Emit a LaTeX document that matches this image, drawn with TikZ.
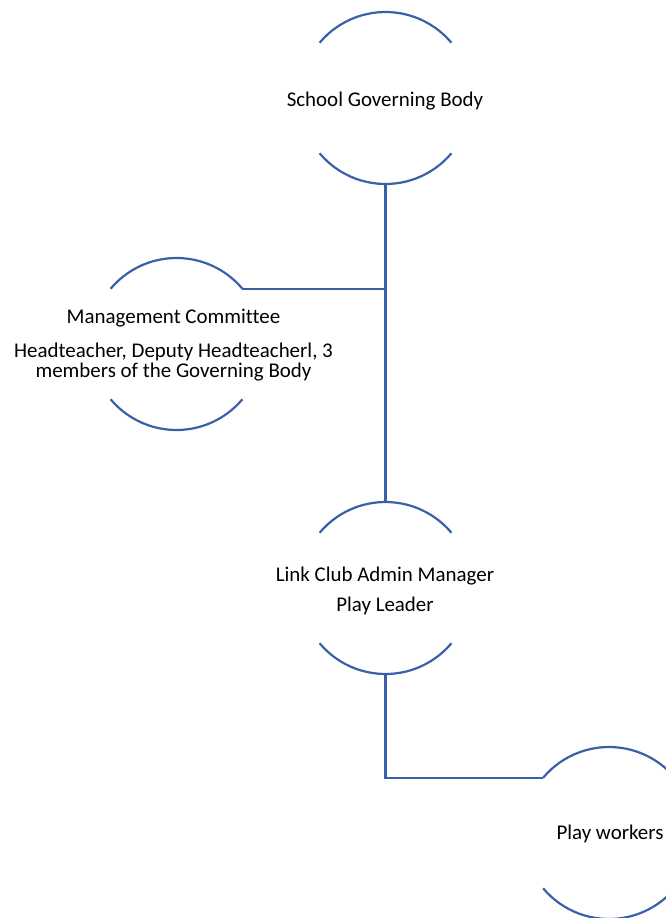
\documentclass[tikz,border=0pt]{standalone}
\usepackage{fontspec}
\setmainfont{Carlito}[Ligatures=NoCommon]
\definecolor{linkblue}{RGB}{58,96,168}
\newcommand{\halfarcs}[1]{%
  \draw[arcline] (#1.140) arc[start angle=140,end angle=40,radius=64.5pt];
  \draw[arcline] (#1.220) arc[start angle=220,end angle=320,radius=64.5pt];}
\begin{document}
\begin{tikzpicture}[x=0.75pt,y=-0.75pt,
  role/.style={circle,minimum size=129pt,inner sep=0pt,outer sep=0pt},
  roletext/.style={inner sep=0pt,align=center,
    font=\fontsize{15.7}{15}\selectfont,text=black},
  arcline/.style={draw=linkblue,line width=1.65pt},
  link/.style={draw=linkblue,line width=1.65pt}]
\useasboundingbox (0,0) rectangle (665,918);
\node[role] (sgb) at (385.5,98) {};
\node[role] (mc) at (176.5,344) {};
\node[role] (lc) at (385.5,588) {};
\node[role] (pw) at (609,833) {};
\node[roletext] (sgbt) at (385,101) {School Governing Body};
\node[roletext] (mct) at (173.5,345) {Management Committee\\[11pt]Headteacher, Deputy Headteacherl, 3\\members of the Governing Body};
\node[roletext] (lct) at (385,591) {Link Club Admin Manager\\[8pt]Play Leader};
\node[roletext] (pwt) at (610,834) {Play workers};
\halfarcs{sgb}
\halfarcs{mc}
\halfarcs{lc}
\halfarcs{pw}
\draw[link] (sgb.south) -- (lc.north);
\draw[link] (mc.40) -- (mc.40 -| sgb.south);
\draw[link] (lc.south) |- (pw.140);
\end{tikzpicture}
\end{document}
